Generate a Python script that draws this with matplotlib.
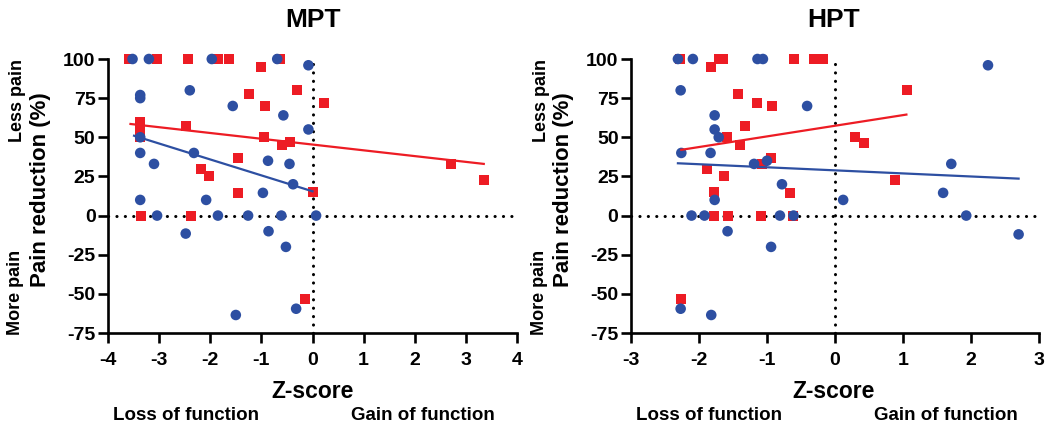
import matplotlib
matplotlib.use("Agg")
import matplotlib.pyplot as plt

plt.rcParams["font.family"] = ["Liberation Sans", "DejaVu Sans"]
plt.rcParams["font.weight"] = "bold"
plt.rcParams["axes.unicode_minus"] = False

RED = "#ED1C24"
BLUE = "#2D4FA2"

# MPT panel
mpt_blue_x = [-3.52, -3.20, -1.97, -0.69, -0.08, -3.37, -3.37, -2.40, -1.56, -0.57, -0.08,
              -3.37, -3.37, -3.10, -2.32, -0.87, -0.45, -0.38, -0.97, -3.37, -2.08, -3.04,
              -1.85, -1.26, -0.61, 0.07, -2.48, -0.86, -0.52, -1.50, -0.32]
mpt_blue_y = [100, 100, 100, 100, 96, 77, 75, 80, 70, 64, 55,
              50, 40, 33, 40, 35, 33, 20, 14.5, 10, 10, 0,
              0, 0, 0, 0, -11.5, -10, -20, -63.5, -59.5]
mpt_red_x = [-3.59, -3.04, -2.43, -1.84, -1.63, -0.63, -1.01, -1.24, -0.31, -0.93, -3.37,
             -3.37, -3.37, -2.48, -0.95, -0.59, -0.44, -1.46, -2.18, -2.03, -1.45, 0.01,
             -3.35, -2.38, -0.14, 0.22, 2.70, 3.35]
mpt_red_y = [100, 100, 100, 100, 100, 100, 95, 77.5, 80, 70, 60,
             55, 50, 57, 50, 45, 47, 36.5, 30, 25, 14.5, 15,
             0, 0, -53, 72, 33, 22.5]
mpt_red_fit_x = [-3.56, 3.35]
mpt_red_fit_y = [58.5, 33]
mpt_blue_fit_x = [-3.49, 0.0]
mpt_blue_fit_y = [51, 15.5]

# HPT panel
hpt_blue_x = [-2.31, -2.09, -1.14, -1.06, -2.27, -0.41, -1.77, -1.77, -1.71, -2.26, -1.83,
              -1.19, -1.00, -0.78, -1.77, -2.11, -1.92, -0.81, -0.61, -1.58, -0.94, -2.27,
              -1.82, 0.12, 2.25, 1.71, 1.59, 1.93, 2.70]
hpt_blue_y = [100, 100, 100, 100, 80, 70, 64, 55, 50, 40, 40,
              33, 35, 20, 10, 0, 0, 0, 0, -10, -20, -59.5,
              -63.5, 10, 96, 33, 14.5, 0, -12]
hpt_red_x = [-2.28, -1.71, -1.64, -0.61, -0.31, -0.18, -1.83, -1.43, -1.14, -0.92, -1.32,
             -1.59, -1.40, -0.94, -1.08, -1.88, -1.63, -1.78, -0.66, -1.78, -1.57, -1.09,
             -0.62, -2.27, 1.06, 0.29, 0.42, 0.88]
hpt_red_y = [100, 100, 100, 100, 100, 100, 95, 77.5, 72, 70, 57,
             50, 45, 36.5, 33, 30, 25, 15, 14.5, 0, 0, 0,
             0, -53, 80, 50, 46.5, 22.5]
hpt_red_fit_x = [-2.26, 1.05]
hpt_red_fit_y = [42, 64.5]
hpt_blue_fit_x = [-2.31, 2.70]
hpt_blue_fit_y = [33.4, 23.6]

yticks = [-75, -50, -25, 0, 25, 50, 75, 100]

W, H = 1050, 428
fig = plt.figure(figsize=(W / 100, H / 100), dpi=100)

panels = [
    ("MPT", 108, 517, 313, (-4, 4), range(-4, 5),
     mpt_blue_x, mpt_blue_y, mpt_red_x, mpt_red_y,
     mpt_blue_fit_x, mpt_blue_fit_y, mpt_red_fit_x, mpt_red_fit_y),
    ("HPT", 631, 1039, 834, (-3, 3), range(-3, 4),
     hpt_blue_x, hpt_blue_y, hpt_red_x, hpt_red_y,
     hpt_blue_fit_x, hpt_blue_fit_y, hpt_red_fit_x, hpt_red_fit_y),
]

for (title, x0, x1, mid, xlim, xt, bx, by, rx, ry, bfx, bfy, rfx, rfy) in panels:
    ax = fig.add_axes([x0 / W, 1 - 333 / H, (x1 - x0) / W, (333 - 59) / H])
    ax.set_xlim(*xlim)
    ax.set_ylim(-75, 100)
    ax.set_xticks(list(xt))
    ax.set_yticks(yticks)
    for s in ["top", "right"]:
        ax.spines[s].set_visible(False)
    for s in ["left", "bottom"]:
        ax.spines[s].set_linewidth(1.9)
    ax.tick_params(width=1.9, length=7, labelsize=14)
    ax.tick_params(axis="x", pad=7)
    ax.tick_params(axis="y", pad=2)

    dot = dict(color="black", lw=2.2, linestyle=(0, (0.05, 2.7)),
               dash_capstyle="round", zorder=1)
    ax.axhline(0, **dot)
    ax.axvline(0, **dot)

    ax.scatter(rx, ry, marker="s", s=52, color=RED, edgecolors="none", zorder=3, clip_on=False)
    ax.scatter(bx, by, marker="o", s=58, color=BLUE, edgecolors="none", zorder=4, clip_on=False)
    ax.plot(rfx, rfy, color=RED, lw=1.6, zorder=5)
    ax.plot(bfx, bfy, color=BLUE, lw=1.6, zorder=5)

    fig.text(mid / W, 1 - 20 / H, title, ha="center", va="center", fontsize=19)
    fig.text(mid / W, 1 - 391 / H, "Z-score", ha="center", va="center", fontsize=16.5)
    fig.text((x0 + 78) / W, 1 - 415 / H, "Loss of function", ha="center", va="center", fontsize=13.5)
    fig.text((x0 + 315) / W, 1 - 415 / H, "Gain of function", ha="center", va="center", fontsize=13.5)
    fig.text((x0 - 67) / W, 1 - 190 / H, "Pain reduction (%)", ha="center", va="center",
             rotation=90, fontsize=16)
    fig.text((x0 - 90) / W, 1 - 101 / H, "Less pain", ha="center", va="center",
             rotation=90, fontsize=13)
    fig.text((x0 - 92) / W, 1 - 292 / H, "More pain", ha="center", va="center",
             rotation=90, fontsize=13)

fig.savefig("out.png", dpi=100)
